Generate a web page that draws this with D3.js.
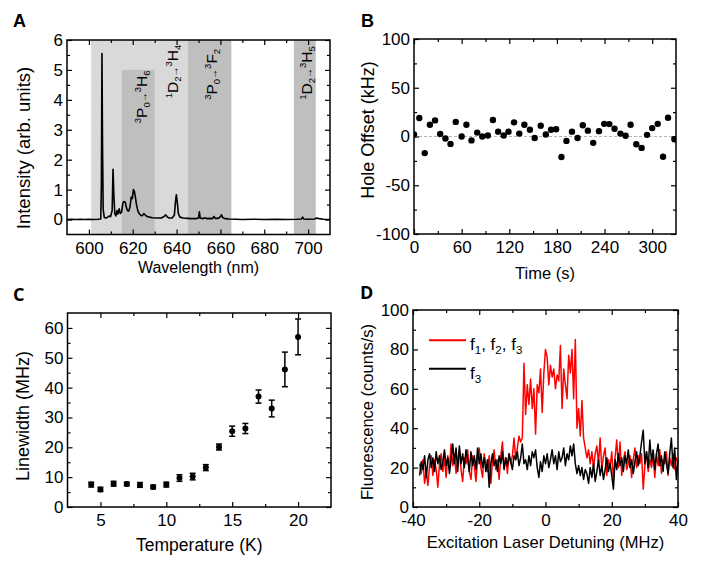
<!DOCTYPE html>
<html>
<head>
<meta charset="utf-8">
<title>Spectroscopy panels</title>
<script src="https://cdn.jsdelivr.net/npm/d3@7"></script>
<style>
  body { margin: 0; background: #fff; }
  text { font-family: "Liberation Sans", Arial, sans-serif; fill: #000; }
  .axis path.domain { display: none; }
  .axis line { stroke: #000; stroke-width: 1.2; }
</style>
</head>
<body>
<svg id="fig" width="706" height="568"></svg>
<script>
// ---- panel A : emission spectrum
var specNm = [590, 592, 594, 596, 598, 600, 602, 604, 605.4, 605.7, 605.95, 606.2, 606.5, 607, 607.8,
  608.6, 609.3, 609.9, 610.6, 611.0, 611.4, 611.8, 612.3, 612.8, 613.2, 613.8, 614.3, 614.9, 615.5,
  616.0, 616.6, 617.1, 617.6, 618.1, 618.7, 619.3, 619.8, 620.3, 620.7, 621.2, 621.7, 622.3, 622.9,
  623.6, 624.4, 625.1, 625.7, 626.6, 627.6, 629, 631, 633, 634.3, 635.0, 635.6, 636.5, 638, 639.0,
  639.5, 639.9, 640.3, 640.8, 641.5, 643, 645, 647, 649, 650, 650.4, 650.8, 652, 653, 654, 655,
  656.4, 657, 657.6, 659, 660, 660.5, 661, 662, 664, 667, 670, 675, 680, 685, 690, 695, 697, 697.5,
  698, 700, 703, 704, 705, 707, 710];
var specInt = [0.0, 0.01, 0.0, 0.01, 0.0, 0.01, 0.0, 0.01, 0.02, 1.2, 5.55, 2.6, 0.35, 0.07, 0.05,
  0.08, 0.12, 0.1, 0.3, 1.68, 0.8, 0.2, 0.12, 0.3, 0.18, 0.36, 0.2, 0.25, 0.55,
  0.6, 0.58, 0.4, 0.3, 0.28, 0.4, 0.75, 0.7, 1.0, 0.95, 0.75, 0.5, 0.3, 0.2,
  0.14, 0.13, 0.2, 0.15, 0.1, 0.08, 0.06, 0.05, 0.05, 0.1, 0.16, 0.1, 0.05, 0.05, 0.15,
  0.6, 0.83, 0.6, 0.2, 0.08, 0.05, 0.04, 0.03, 0.03, 0.05, 0.26, 0.05, 0.03, 0.06, 0.03, 0.04,
  0.03, 0.1, 0.04, 0.04, 0.1, 0.16, 0.07, 0.03, 0.02, 0.01, 0.0, 0.01, 0.0, 0.01, 0.0, 0.01, 0.02, 0.08,
  0.02, 0.01, 0.02, 0.05, 0.03, 0.01, 0.0];
var bandLo = [601, 615, 645, 693.5];
var bandHi = [645, 630, 665, 703.5];
var bandTop = [6, 5, 6, 6];
var bandKind = ["light", "dark", "dark", "dark"];
var transLabels = [
  [["3", "sup"], ["P", ""], ["0", "sub"], ["\u2192", "arr"], ["3", "sup"], ["H", ""], ["6", "sub"]],
  [["1", "sup"], ["D", ""], ["2", "sub"], ["\u2192", "arr"], ["3", "sup"], ["H", ""], ["4", "sub"]],
  [["3", "sup"], ["P", ""], ["0", "sub"], ["\u2192", "arr"], ["3", "sup"], ["F", ""], ["2", "sub"]],
  [["1", "sup"], ["D", ""], ["2", "sub"], ["\u2192", "arr"], ["3", "sup"], ["H", ""], ["5", "sub"]]
];
var transNm = [626.5, 640.8, 658.5, 701.9];
var transY = [3.22, 4.05, 4.0, 4.0];

// ---- panel B : hole offset vs time
var holeT = [0, 6.7, 13.5, 20, 26.5, 33, 39.6, 46, 52.6, 60, 66, 72.4, 79.6, 86, 93, 99.4, 106, 113, 119, 126,
  132.6, 139, 146, 152, 159.6, 166, 172.6, 179, 185.7, 192, 199, 206, 212.6, 219, 225.7, 233, 239.6, 246,
  252.6, 260, 266.5, 272.8, 280, 286.7, 293.5, 300, 307, 313.7, 320, 328];
var holeOffset = [2, 19, -17, 12, 16.5, 2.5, -2, -7.6, 15, 0, 12, -4, 4, 0, 1, 17, 5, 1, 5, 14.5,
  3, 12, 7, -1.5, 11, 2, 7, 7.5, -21, -4.5, 5, -1.5, 11.5, 6, -6.5, 5.5, 13, 12.7,
  8, 3, 0.7, 12, -8, -11.7, 1.7, 8.6, 13, -20.7, 19.3, -2.8];

// ---- panel C : linewidth vs temperature
var tempK = [4.3, 5, 6, 7, 8, 9, 10, 11, 12, 13, 14, 15, 16, 17, 18, 19, 20];
var linewidth = [7.5, 5.9, 7.8, 7.7, 7.4, 6.7, 7.5, 9.7, 10.2, 13.2, 20.1, 25.4, 26.3, 37.0, 33.0, 46.1, 57.0];
var linewidthErr = [0.8, 0.7, 0.8, 0.6, 0.8, 0.6, 0.8, 1.1, 1.1, 1.0, 1.0, 1.7, 1.7, 2.2, 2.8, 5.8, 6.0];

// ---- panel D : fluorescence vs detuning (sweep from -38 MHz in 0.5 MHz steps)
var detStart = -38, detStep = 0.5;
var fluoAll = [22,17,24,12,18,11,21,26,16,24,
  19,10,22,27,18,25,15,26,20,32,
  21,27,17,24,29,19,13,25,22,29,
  18,14,26,21,13,24,30,20,15,27,
  22,18,26,12,23,29,19,24,14,26,
  33,20,25,17,27,22,26,35,24,30,
  36,33,35,73,47,62,52,65,50,60,
  37,62,58,70,48,68,80,76,62,72,
  66,70,60,67,64,82,50,70,62,55,
  77,68,80,55,85,40,50,36,54,35,
  30,25,29,22,28,20,27,31,22,35,
  19,26,30,16,24,20,28,14,25,34,
  20,33,16,24,28,19,22,26,15,24,
  30,20,26,22,27,9,21,28,18,24,
  20,26,15,27,21,29,17,24,22,28,
  16,25,21,27,19,25,23];
var fluoF3 = [16,23,19,26,15,24,27,20,25,18,
  28,22,26,19,23,29,21,25,17,24,
  32,22,30,18,31,22,27,20,29,24,
  18,28,21,26,19,30,22,27,20,25,
  18,24,10,22,27,21,24,18,26,22,
  28,19,25,21,27,23,19,26,24,28,
  21,25,32,22,24,19,26,21,28,25,
  29,20,15,23,18,26,22,27,20,24,
  29,22,26,19,28,23,25,30,21,27,
  24,31,26,32,22,17,21,16,20,14,
  19,17,12,20,15,22,13,18,24,16,
  21,14,19,25,18,22,16,9,24,19,
  27,21,25,18,26,22,29,20,24,17,
  23,28,21,26,33,39,22,28,20,34,
  23,29,19,27,32,21,26,18,28,22,
  17,27,35,20,30,14,24];

var svg = d3.select("#fig");
var FONT = '"Liberation Sans", Arial, sans-serif';
var TICK_FS = 17;

function makePanel(box, xDom, yDom) {
  return {
    box: box,
    x: d3.scaleLinear().domain(xDom).range([box.l, box.r]),
    y: d3.scaleLinear().domain(yDom).range([box.b, box.t]),
    g: svg.append("g")
  };
}

function lbl(d) { return String(d); }

function drawAxes(p, xMaj, xMin, yMaj, yMin) {
  var b = p.box;
  var g = p.g.append("g").attr("class", "axis");
  function add(axis, tr) {
    g.append("g").attr("transform", tr).call(axis)
      .attr("font-family", FONT).attr("font-size", TICK_FS);
  }
  add(d3.axisBottom(p.x).tickValues(xMaj).tickSize(-5).tickPadding(7).tickFormat(lbl), "translate(0," + b.b + ")");
  add(d3.axisBottom(p.x).tickValues(xMin).tickSize(-3).tickFormat(""), "translate(0," + b.b + ")");
  add(d3.axisTop(p.x).tickValues(xMaj).tickSize(-5).tickFormat(""), "translate(0," + b.t + ")");
  add(d3.axisTop(p.x).tickValues(xMin).tickSize(-3).tickFormat(""), "translate(0," + b.t + ")");
  add(d3.axisLeft(p.y).tickValues(yMaj).tickSize(-5).tickPadding(4).tickFormat(lbl), "translate(" + b.l + ",0)");
  add(d3.axisLeft(p.y).tickValues(yMin).tickSize(-3).tickFormat(""), "translate(" + b.l + ",0)");
  add(d3.axisRight(p.y).tickValues(yMaj).tickSize(-5).tickFormat(""), "translate(" + b.r + ",0)");
  add(d3.axisRight(p.y).tickValues(yMin).tickSize(-3).tickFormat(""), "translate(" + b.r + ",0)");
  g.selectAll(".tick text").attr("fill", "#000");
}

function drawFrame(p) {
  var b = p.box;
  p.g.append("rect").attr("x", b.l).attr("y", b.t)
    .attr("width", b.r - b.l).attr("height", b.b - b.t)
    .attr("fill", "none").attr("stroke", "#000").attr("stroke-width", 1.5);
}

// x title, y title and panel letter
function titles(p, o) {
  var b = p.box;
  p.g.append("text").attr("x", (b.l + b.r) / 2).attr("y", o.xtY)
    .attr("text-anchor", "middle").attr("font-size", o.xtFs).text(o.xt);
  p.g.append("text").attr("transform", "translate(" + o.ytX + "," + o.ytC + ") rotate(-90)")
    .attr("text-anchor", "middle").attr("font-size", o.ytFs).text(o.yt);
  p.g.append("text").attr("x", o.lx).attr("y", o.ly).attr("font-size", 18)
    .attr("font-weight", "bold").style("font-family", o.lf).text(o.letter);
}

// main text with sub/superscripts; sizes = {big, small, arr}
function richText(t, parts, sz, up, down) {
  var shift = 0;
  parts.forEach(function (pt) {
    var target = pt[1] === "sup" ? -up : (pt[1] === "sub" ? down : 0);
    var fs = pt[1] === "sup" || pt[1] === "sub" ? sz.small : (pt[1] === "arr" ? sz.arr : sz.big);
    t.append("tspan").attr("dy", target - shift).attr("font-size", fs).text(pt[0]);
    shift = target;
  });
}

// ================= Panel A
var pA = makePanel({l: 67, r: 330, t: 40, b: 234.5}, [590, 710], [-0.5, 6]);
pA.g.selectAll("rect.band").data(bandLo).enter().append("rect")
  .attr("class", "band")
  .attr("x", function (d) { return pA.x(d); })
  .attr("width", function (d, i) { return pA.x(bandHi[i]) - pA.x(d); })
  .attr("y", function (d, i) { return pA.y(bandTop[i]); })
  .attr("height", function (d, i) { return pA.y(-0.5) - pA.y(bandTop[i]); })
  .attr("fill", function (d, i) { return bandKind[i] === "light" ? "#d9d9d9" : "#bfbfbf"; });
drawAxes(pA, d3.range(600, 701, 20), d3.range(610, 700, 20), d3.range(0, 7, 1), [0.5, 1.5, 2.5, 3.5, 4.5, 5.5]);
pA.g.append("path")
  .datum(specNm.map(function (d, i) { return [d, specInt[i]]; }))
  .attr("fill", "none").attr("stroke", "#000").attr("stroke-width", 1.6)
  .attr("stroke-linejoin", "round")
  .attr("d", d3.line().x(function (d) { return pA.x(d[0]); }).y(function (d) { return pA.y(d[1]); }));
transLabels.forEach(function (parts, i) {
  var t = pA.g.append("text")
    .attr("transform", "translate(" + pA.x(transNm[i]) + "," + pA.y(transY[i]) + ") rotate(-90)")
    .attr("text-anchor", "start");
  richText(t, parts, {big: 15.5, small: 9.5, arr: 10}, 6, 3);
});
drawFrame(pA);
titles(pA, {xt: "Wavelength (nm)", xtY: 273, xtFs: 16, yt: "Intensity (arb. units)", ytX: 30, ytC: 148, ytFs: 18.5,
  letter: "A", lx: 13, ly: 27, lf: FONT});

// ================= Panel B
var pB = makePanel({l: 414, r: 676, t: 39, b: 234}, [0, 330], [-100, 100]);
drawAxes(pB, d3.range(0, 301, 60), d3.range(30, 330, 60), [-100, -50, 0, 50, 100], [-75, -25, 25, 75]);
pB.g.append("line")
  .attr("x1", pB.box.l).attr("x2", pB.box.r)
  .attr("y1", pB.y(0)).attr("y2", pB.y(0))
  .attr("stroke", "#b3b3b3").attr("stroke-width", 1.2).attr("stroke-dasharray", "3,2");
svg.append("clipPath").attr("id", "clipB").append("rect")
  .attr("x", pB.box.l).attr("y", pB.box.t)
  .attr("width", pB.box.r - pB.box.l).attr("height", pB.box.b - pB.box.t);
pB.g.append("g").attr("clip-path", "url(#clipB)")
  .selectAll("circle").data(holeT).enter().append("circle")
  .attr("cx", function (d) { return pB.x(d); })
  .attr("cy", function (d, i) { return pB.y(holeOffset[i]); })
  .attr("r", 3.2).attr("fill", "#000");
drawFrame(pB);
titles(pB, {xt: "Time (s)", xtY: 279, xtFs: 16.5, yt: "Hole Offset (kHz)", ytX: 374, ytC: 130, ytFs: 18,
  letter: "B", lx: 361, ly: 27, lf: FONT});

// ================= Panel C
var pC = makePanel({l: 67.5, r: 331, t: 313, b: 507}, [2.5, 22.5], [0, 65]);
drawAxes(pC, [5, 10, 15, 20], [7.5, 12.5, 17.5], d3.range(0, 61, 10), d3.range(5, 61, 10));
var eb = pC.g.append("g").attr("stroke", "#000").attr("stroke-width", 1.5);
tempK.forEach(function (t, i) {
  var cx = pC.x(t), lo = pC.y(linewidth[i] - linewidthErr[i]), hi = pC.y(linewidth[i] + linewidthErr[i]);
  eb.append("line").attr("x1", cx).attr("x2", cx).attr("y1", lo).attr("y2", hi);
  eb.append("line").attr("x1", cx - 3).attr("x2", cx + 3).attr("y1", lo).attr("y2", lo);
  eb.append("line").attr("x1", cx - 3).attr("x2", cx + 3).attr("y1", hi).attr("y2", hi);
});
pC.g.selectAll("circle").data(tempK).enter().append("circle")
  .attr("cx", function (d) { return pC.x(d); })
  .attr("cy", function (d, i) { return pC.y(linewidth[i]); })
  .attr("r", 3).attr("fill", "#000");
drawFrame(pC);
titles(pC, {xt: "Temperature (K)", xtY: 551, xtFs: 17.5, yt: "Linewidth (MHz)", ytX: 29, ytC: 416, ytFs: 18,
  letter: "C", lx: 13, ly: 301, lf: '"Open Sans", sans-serif'});

// ================= Panel D
var pD = makePanel({l: 413, r: 678, t: 310, b: 507}, [-40, 40], [0, 100]);
drawAxes(pD, d3.range(-40, 41, 20), [-30, -10, 10, 30], d3.range(0, 101, 20), d3.range(10, 100, 20));
var lineD = d3.line()
  .x(function (d, i) { return pD.x(detStart + i * detStep); })
  .y(function (d) { return pD.y(d); });
pD.g.append("path").datum(fluoAll).attr("fill", "none").attr("stroke", "#ff0000")
  .attr("stroke-width", 1.5).attr("stroke-linejoin", "round").attr("d", lineD);
pD.g.append("path").datum(fluoF3).attr("fill", "none").attr("stroke", "#000")
  .attr("stroke-width", 1.5).attr("stroke-linejoin", "round").attr("d", lineD);
// legend
var legRows = [
  {color: "#ff0000", parts: [["f", ""], ["1", "sub"], [", f", ""], ["2", "sub"], [", f", ""], ["3", "sub"]]},
  {color: "#000", parts: [["f", ""], ["3", "sub"]]}
];
legRows.forEach(function (r, i) {
  var ly = pD.y(84.6) + i * 28.3;
  pD.g.append("line").attr("x1", 429).attr("x2", 466).attr("y1", ly).attr("y2", ly)
    .attr("stroke", r.color).attr("stroke-width", 2);
  var t = pD.g.append("text").attr("x", 470).attr("y", ly + 10);
  richText(t, r.parts, {big: 17, small: 11.5, arr: 17}, 6, 4);
});
drawFrame(pD);
titles(pD, {xt: "Excitation Laser Detuning (MHz)", xtY: 548, xtFs: 16.5, yt: "Fluorescence (counts/s)", ytX: 373, ytC: 412, ytFs: 16.5,
  letter: "D", lx: 360, ly: 299, lf: '"Open Sans", sans-serif'});
</script>
</body>
</html>
